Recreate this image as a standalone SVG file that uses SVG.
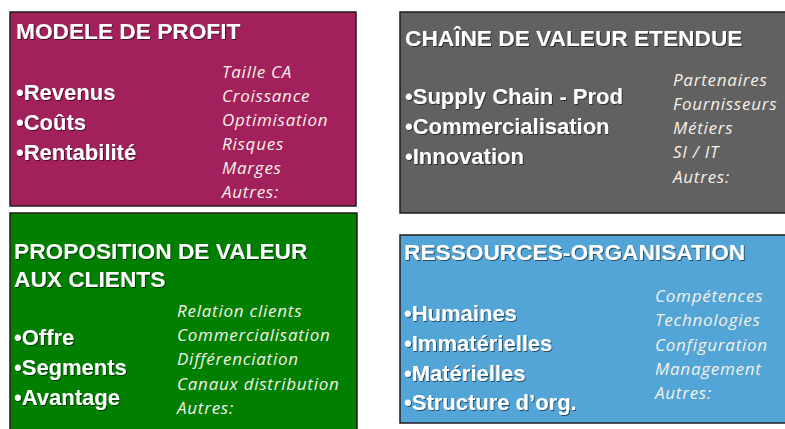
<svg xmlns="http://www.w3.org/2000/svg" width="785" height="429" viewBox="0 0 785 429">
  <defs>
    <filter id="sh" x="-5%" y="-20%" width="110%" height="140%">
      <feDropShadow dx="1" dy="1" stdDeviation="0.6" flood-color="#000" flood-opacity="0.55"/>
    </filter>
  </defs>
  <style>
    .box { stroke: #1e1e1e; stroke-width: 1.5; }
    .title { font-family: "Liberation Sans", Arial, sans-serif; font-weight: bold; font-size: 22.7px; fill: #ffffff; }
    .bul { font-family: "Liberation Sans", Arial, sans-serif; font-weight: bold; font-size: 22px; fill: #ffffff; }
    .it { font-family: "Open Sans", "Noto Sans", sans-serif; font-style: italic; font-size: 17px; letter-spacing: 0.75px; fill: #f6f0e6; }
  </style>
  <rect width="785" height="429" fill="#ffffff"/>

  <g id="modele-profit">
    <rect class="box" x="10" y="12" width="346" height="194" fill="#A2205C"/>
    <g filter="url(#sh)">
      <text class="title" x="16" y="39">MODELE DE PROFIT</text>
      <text class="bul" x="16" y="100">•Revenus</text>
      <text class="bul" x="16" y="130">•Coûts</text>
      <text class="bul" x="16" y="160">•Rentabilité</text>
    </g>
    <text class="it" x="222" y="78">Taille CA</text>
    <text class="it" x="222" y="102">Croissance</text>
    <text class="it" x="222" y="126">Optimisation</text>
    <text class="it" x="222" y="150">Risques</text>
    <text class="it" x="222" y="174">Marges</text>
    <text class="it" x="222" y="198">Autres:</text>
  </g>

  <g id="chaine-valeur">
    <rect class="box" x="400" y="12" width="390" height="201" fill="#616161"/>
    <g filter="url(#sh)">
      <text class="title" x="405" y="46">CHAÎNE DE VALEUR ETENDUE</text>
      <text class="bul" x="405" y="104">•Supply Chain - Prod</text>
      <text class="bul" x="405" y="134">•Commercialisation</text>
      <text class="bul" x="405" y="164">•Innovation</text>
    </g>
    <text class="it" x="673" y="86">Partenaires</text>
    <text class="it" x="673" y="110">Fournisseurs</text>
    <text class="it" x="673" y="134">Métiers</text>
    <text class="it" x="673" y="158">SI / IT</text>
    <text class="it" x="673" y="183">Autres:</text>
  </g>

  <g id="proposition-valeur">
    <rect class="box" x="10" y="213" width="347" height="230" fill="#007F00"/>
    <g filter="url(#sh)">
      <text class="title" x="14" y="259">PROPOSITION DE VALEUR</text>
      <text class="title" x="14" y="287">AUX CLIENTS</text>
      <text class="bul" x="14" y="345">•Offre</text>
      <text class="bul" x="14" y="375">•Segments</text>
      <text class="bul" x="14" y="405">•Avantage</text>
    </g>
    <text class="it" x="177" y="317">Relation clients</text>
    <text class="it" x="177" y="341">Commercialisation</text>
    <text class="it" x="177" y="365">Différenciation</text>
    <text class="it" x="177" y="390">Canaux distribution</text>
    <text class="it" x="177" y="414">Autres:</text>
  </g>

  <g id="ressources-organisation">
    <rect class="box" x="400" y="235" width="390" height="188" fill="#52A5D6"/>
    <g filter="url(#sh)">
      <text class="title" x="404" y="260">RESSOURCES-ORGANISATION</text>
      <text class="bul" x="404" y="321">•Humaines</text>
      <text class="bul" x="404" y="351">•Immatérielles</text>
      <text class="bul" x="404" y="381">•Matérielles</text>
      <text class="bul" x="404" y="410">•Structure d’org.</text>
    </g>
    <text class="it" x="655" y="302">Compétences</text>
    <text class="it" x="655" y="326">Technologies</text>
    <text class="it" x="655" y="351">Configuration</text>
    <text class="it" x="655" y="375">Management</text>
    <text class="it" x="655" y="399">Autres:</text>
  </g>

  <g id="connectors"/>
</svg>
